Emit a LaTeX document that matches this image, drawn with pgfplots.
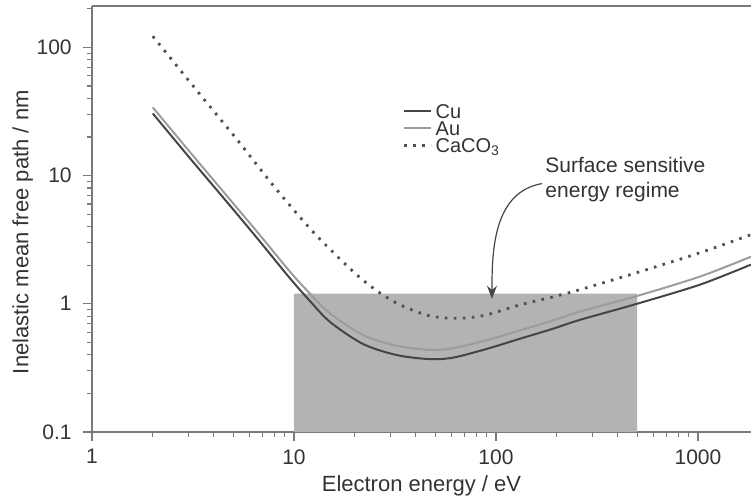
\documentclass[border=0pt]{standalone}
\usepackage{fontspec}
\setmainfont{Liberation Sans}
\usepackage{pgfplots}
\pgfplotsset{compat=1.18}
\usetikzlibrary{arrows.meta}

\definecolor{txt}{HTML}{333333}
\definecolor{axc}{HTML}{7A7A7A}
\definecolor{cu}{HTML}{454545}
\definecolor{au}{HTML}{9C9C9C}
\definecolor{caco}{HTML}{505050}
\definecolor{band}{HTML}{B3B3B3}

% inelastic mean free path (nm)
\pgfplotstableread{
E lam
2.00 30.5
3.06 13.6
4.82 5.83
6.79 3.05
9.55 1.58
12.0 1.05
15.1 0.72
22.0 0.485
32.3 0.398
47.1 0.370
61.2 0.380
90.2 0.445
131 0.533
191 0.638
261 0.750
499 1.0
1023 1.41
1830 2.02
}\cu
\pgfplotstableread{
E lam
2.00 34.0
3.06 15.2
4.82 6.5
6.79 3.42
9.55 1.78
12.0 1.20
15.1 0.84
22.0 0.57
32.3 0.47
47.1 0.437
61.2 0.45
90.2 0.52
131 0.62
191 0.74
261 0.87
499 1.15
1023 1.63
1830 2.33
}\au
\pgfplotstableread{
E lam
2.00 122
3.24 47.8
5.22 19.1
8.05 8.06
12.4 3.65
18.3 1.98
22.5 1.48
27.6 1.17
32.7 1.0
38.8 0.89
46.1 0.81
55.9 0.775
70.3 0.775
90.2 0.82
131 0.98
191 1.13
261 1.29
499 1.75
1023 2.50
1830 3.46
}\caco

\begin{document}
\fontsize{10.5}{12.6}\selectfont
\begin{tikzpicture}
\begin{axis}[name=ax,
  xmode=log, ymode=log,
  scale only axis, width=329.5pt, height=213pt,
  xmin=1, xmax=1830, ymin=0.1, ymax=210,
  enlargelimits=false,
  axis lines=left,
  axis line style={-, axc, line width=0.9pt},
  tick align=outside,
  major tick length=4.5pt, minor tick length=2.5pt,
  tick style={axc, line width=0.6pt},
  xtick={1,10,100,1000}, xticklabels={1,10,100,1000},
  ytick={0.1,1,10,100}, yticklabels={0.1,1,10,100},
  minor xtick={2,3,4,5,6,7,8,9,20,30,40,50,60,70,80,90,200,300,400,500,600,700,800,900},
  minor ytick={0.2,0.3,0.4,0.5,0.6,0.7,0.8,0.9,2,3,4,5,6,7,8,9,20,30,40,50,60,70,80,90,200},
  tick label style={text=txt},
  xticklabel style={yshift=-0.5pt},
  yticklabel style={xshift=-2pt},
  xlabel={Electron energy / eV},
  ylabel={Inelastic mean free path / nm},
  label style={text=txt, font=\fontsize{11}{13}\selectfont},
  xlabel style={at={(axis description cs:0.5,-0.127)}, anchor=center},
  ylabel style={at={(axis description cs:-0.105,0.469)}, anchor=center},
  legend style={draw=none, fill=none, at={(0.462,0.78)}, anchor=north west,
    text=txt, font=\fontsize{10}{12}\selectfont,
    nodes={inner sep=0pt, text height=7pt, text depth=0.5pt},
    row sep=1.2pt, column sep=1.5pt},
  legend cell align=left,
  legend image code/.code={\draw[#1] (0pt,0.5pt) -- (13.5pt,0.5pt);},
]
\addplot[fill=band, draw=none, forget plot] coordinates {(10,0.1) (10,1.2) (500,1.2) (500,0.1) (10,0.1)};
\addplot[cu, line width=1pt, smooth] table[x=E, y=lam] {\cu};
\addlegendentry{Cu}
\addplot[au, line width=1pt, smooth] table[x=E, y=lam] {\au};
\addlegendentry{Au}
\addplot[caco, line width=1.4pt, dash pattern=on 1.3pt off 3.2pt, smooth] table[x=E, y=lam] {\caco};
\addlegendentry{CaCO\textsubscript{3}}
\draw[axc, line width=0.9pt] (rel axis cs:0,1) -- (rel axis cs:1,1);
\node[anchor=north west, inner sep=0pt, align=left, text=txt, font=\fontsize{10.5}{12.5}\selectfont]
  at (axis cs:175,14.1) {Surface sensitive\\energy regime};
\draw[cu, line width=0.6pt, -{Stealth[length=6.5pt,width=5pt]}]
  (axis cs:169,8.66) to[out=190, in=90] (axis cs:95.5,1.094);
\end{axis}
\pgfresetboundingbox
\path ([xshift=-46pt,yshift=-35pt]ax.south west) rectangle ([yshift=3pt]ax.north east);
\end{tikzpicture}
\end{document}
